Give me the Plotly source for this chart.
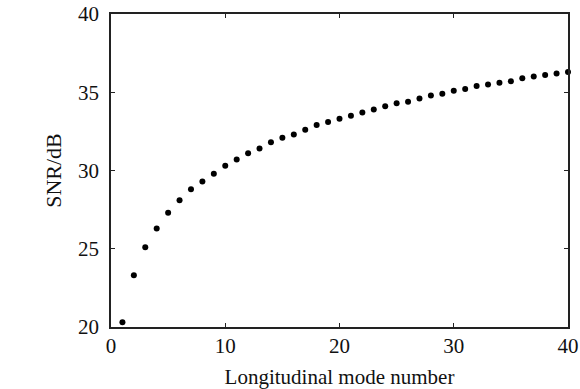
import plotly.graph_objects as go

mode_number = list(range(1, 41))
snr_db = [20.3, 23.3, 25.1, 26.3, 27.3, 28.1, 28.8, 29.3, 29.8, 30.3,
          30.7, 31.1, 31.4, 31.8, 32.1, 32.3, 32.6, 32.9, 33.1, 33.3,
          33.5, 33.7, 33.9, 34.1, 34.3, 34.4, 34.6, 34.8, 34.9, 35.1,
          35.2, 35.4, 35.5, 35.6, 35.7, 35.9, 36.0, 36.1, 36.2, 36.3]
x_ticks = [0, 10, 20, 30, 40]
y_ticks = [20, 25, 30, 35, 40]

family = "Liberation Serif, Times New Roman, serif"
tick_font = dict(family=family, size=21, color="#111")
xtitle_font = dict(family=family, size=21, color="#111")
ytitle_font = dict(family=family, size=22, color="#111")

fig = go.Figure(go.Scatter(
    x=mode_number, y=snr_db, mode="markers",
    marker=dict(size=6, color="black"),
    cliponaxis=False, hoverinfo="skip",
))

axis_common = dict(
    showgrid=False, zeroline=False, showline=True, linecolor="#222", linewidth=1.5,
    mirror="ticks", ticks="inside", ticklen=4, tickwidth=1.2, tickcolor="#222",
    tickfont=tick_font, automargin=False,
)
fig.update_xaxes(range=[0, 40], tickvals=x_ticks, ticklabelstandoff=-1,
                 title=dict(text="Longitudinal mode number", font=xtitle_font, standoff=12),
                 **axis_common)
fig.update_yaxes(range=[20, 40], tickvals=y_ticks, ticklabelstandoff=6,
                 title=dict(text="SNR/dB", font=ytitle_font, standoff=10),
                 **axis_common)
fig.update_layout(
    width=580, height=389,
    margin=dict(l=111, r=12, t=14, b=62, autoexpand=False),
    paper_bgcolor="white", plot_bgcolor="white",
    showlegend=False, font=tick_font,
)
fig.write_html("out.html", config={"displayModeBar": False},
               post_script="document.body.style.margin='0';document.body.style.overflow='hidden';")
